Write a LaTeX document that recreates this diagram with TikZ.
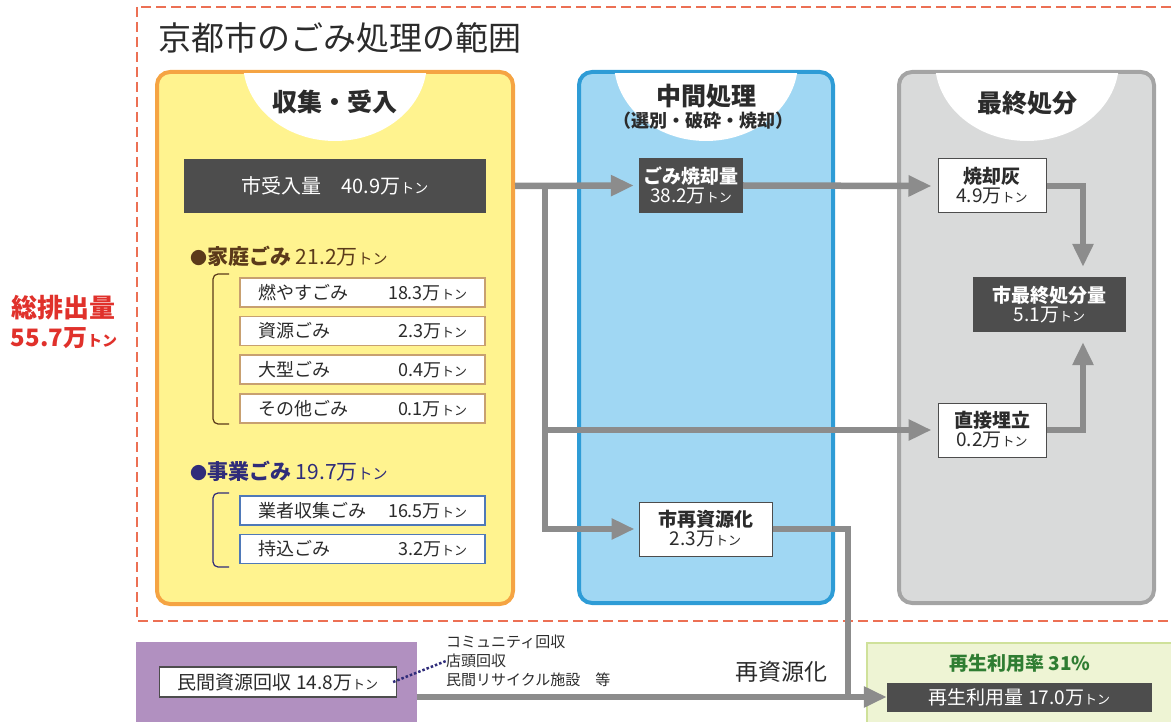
\documentclass[tikz,border=0pt]{standalone}
\usepackage{fontspec}
\setmainfont{Noto Sans CJK JP}
\usepackage{tikz}
\usetikzlibrary{arrows.meta, positioning}
\definecolor{ink}{RGB}{43,43,43}
\definecolor{dashred}{RGB}{236,112,84}
\definecolor{totalred}{RGB}{224,49,43}
\definecolor{yellowfill}{RGB}{255,243,143}
\definecolor{yellowline}{RGB}{245,164,67}
\definecolor{bluefill}{RGB}{160,215,243}
\definecolor{blueline}{RGB}{46,156,214}
\definecolor{grayfill}{RGB}{217,218,218}
\definecolor{grayline}{RGB}{164,164,164}
\definecolor{boxgray}{RGB}{77,77,77}
\definecolor{flowgray}{RGB}{140,140,140}
\definecolor{kateibrown}{RGB}{91,58,26}
\definecolor{tanline}{RGB}{200,160,112}
\definecolor{jigyonavy}{RGB}{47,44,122}
\definecolor{navyline}{RGB}{79,121,184}
\definecolor{purplefill}{RGB}{177,144,192}
\definecolor{greenfill}{RGB}{238,244,212}
\definecolor{greenline}{RGB}{207,225,154}
\definecolor{greentext}{RGB}{47,125,50}
\newcommand\fsz[1]{\fontsize{#1}{#1}\selectfont}
\newcommand\tn[1]{{\fontsize{#1}{#1}\selectfont トン}}

\begin{document}
\begin{tikzpicture}[x=1pt, y=-1pt,
    every node/.style={inner sep=0, text=ink},
    panel/.style={rounded corners=13, line width=4},
    darkbox/.style={fill=boxgray, text=white, align=center, font=\fsz{19}},
    whitebox/.style={fill=white, draw=boxgray, line width=1, align=center, font=\fsz{19}},
    subbox/.style={fill=white, draw=tanline, line width=1.3, minimum width=245, minimum height=29, text width=209, align=left, font=\fsz{18}},
    flow/.style={draw=flowgray, line width=6.5, -{Triangle[length=23pt, width=20pt]}},
    flowline/.style={draw=flowgray, line width=6.5}]
    \useasboundingbox (0,0) rectangle (1171,722);

    % outer frame and title
    \draw[dashred, line width=2, dash pattern=on 10pt off 5pt] (137,7) rectangle (1195,621);
    \node[anchor=west, font=\fsz{33}] (title) at (158,38) {京都市のごみ処理の範囲};
    \node[text=totalred, font=\bfseries\fsz{26}] (sohai) at (64,308) {総排出量};
    \node[text=totalred, font=\bfseries\fsz{24}] (sohaival) at (64,338) {55.7万\tn{15}};

    % three panels
    \node[panel, draw=yellowline, fill=yellowfill, minimum width=356, minimum height=532] (yellow) at (335,338) {};
    \node[panel, draw=blueline, fill=bluefill, minimum width=254, minimum height=531] (blue) at (706,337.5) {};
    \node[panel, draw=grayline, fill=grayfill, minimum width=255, minimum height=531] (gray) at (1026.5,337.5) {};
    \begin{scope}
        \clip (0,74) rectangle (1171,722);
        \fill[white] (335,62) ellipse [x radius=92, y radius=79];
        \fill[white] (706,62) ellipse [x radius=92, y radius=79];
        \fill[white] (1027,62) ellipse [x radius=92, y radius=79];
    \end{scope}
    \node[font=\bfseries\fsz{25}] (collect) at (335,102) {収集・受入};
    \node[font=\bfseries\fsz{25}] (middle) at (706,96) {中間処理};
    \node[font=\bfseries\fsz{18}] (middlesub) at (703,121) {（選別・破砕・焼却）};
    \node[font=\bfseries\fsz{25}] (final) at (1027,103) {最終処分};

    % collection side
    \node[darkbox, minimum width=302, minimum height=54, font=\fsz{20}] (in409) at (335,186) {市受入量\quad 40.9万\tn{14}};
    \node[anchor=west, text=kateibrown, font=\fsz{21}] (katei) at (190,256) {{\fsz{17}●}\textbf{家庭ごみ} 21.2万\tn{15}};
    \draw[kateibrown, line width=1.2, rounded corners=5] (229,274) -- (213,274) -- (213,424) -- (229,424);
    \node[subbox] (moyasu) at (362.5,292.5) {燃やすごみ\hfill 18.3万\tn{13}};
    \node[subbox] (shigen) at (362.5,331) {資源ごみ\hfill 2.3万\tn{13}};
    \node[subbox] (oogata) at (362.5,369.5) {大型ごみ\hfill 0.4万\tn{13}};
    \node[subbox] (sonota) at (362.5,408.5) {その他ごみ\hfill 0.1万\tn{13}};
    \node[anchor=west, text=jigyonavy, font=\fsz{21}] (jigyo) at (190,471) {{\fsz{17}●}\textbf{事業ごみ} 19.7万\tn{15}};
    \draw[jigyonavy, line width=1.2, rounded corners=5] (229,493) -- (213,493) -- (213,567) -- (229,567);
    \node[subbox, draw=navyline] (gyosha) at (362.5,510.5) {業者収集ごみ\hfill 16.5万\tn{13}};
    \node[subbox, draw=navyline] (mochikomi) at (362.5,549) {持込ごみ\hfill 3.2万\tn{13}};

    % treatment and disposal boxes
    \node[darkbox, minimum width=104, minimum height=55] (shoukyaku) at (691,185.5) {\textbf{ごみ焼却量}\\38.2万\tn{13}};
    \node[whitebox, minimum width=133, minimum height=54] (saishigen) at (705.5,529) {\textbf{市再資源化}\\2.3万\tn{13}};
    \node[whitebox, minimum width=108, minimum height=54] (haibox) at (992,186) {\textbf{焼却灰}\\4.9万\tn{13}};
    \node[darkbox, minimum width=153, minimum height=55] (saishu) at (1049.5,304.5) {\textbf{市最終処分量}\\5.1万\tn{13}};
    \node[whitebox, minimum width=108, minimum height=54] (chokusetsu) at (992,430) {\textbf{直接埋立}\\0.2万\tn{13}};

    % bottom row
    \node[fill=purplefill, minimum width=281, minimum height=80] (minkanbg) at (276,682) {};
    \node[fill=white, draw=boxgray, line width=1.2, minimum width=237, minimum height=30, font=\fsz{19}] (minkan) at (278,682) {民間資源回収 14.8万\tn{13}};
    \node[anchor=west, align=left, font=\fsz{15}] (notes) at (446,661) {コミュニティ回収\\[4pt]店頭回収\\[4pt]民間リサイクル施設　等};
    \node[font=\fsz{23}] (reuse) at (781,672) {再資源化};
    \node[fill=greenfill, draw=greenline, line width=2, minimum width=330, minimum height=90] (greenbg) at (1032,688) {};
    \node[text=greentext, font=\bfseries\fsz{19}] (rate) at (1020,663) {再生利用率 31\%};
    \node[darkbox, minimum width=265, minimum height=29] (riyou) at (1019.5,697) {再生利用量 17.0万\tn{13}};

    % connectors
    \coordinate (start) at (515,186);
    \coordinate (split) at (545,186);
    \coordinate (merge) at (848,697);
    \draw[flow, shorten >=5] (start) -- (shoukyaku.west);
    \draw[flow, shorten >=4] (split) |- (saishigen.west);
    \draw[flow, shorten >=6] (split |- chokusetsu.west) -- (chokusetsu.west);
    \draw[flow, shorten >=6] (shoukyaku.east) -- (haibox.west);
    \draw[flow, shorten >=10] (haibox.east) -| ([xshift=33.5]saishu.north);
    \draw[flow, shorten >=10] (chokusetsu.east) -| ([xshift=33.5]saishu.south);
    \draw[flowline] (saishigen.east) -| (merge);
    \draw[flow] (minkanbg.east |- merge) -- (riyou.west);
    \draw[jigyonavy, line width=2.5, dotted] ([xshift=-4]minkan.east) -- (notes.west);
\end{tikzpicture}
\end{document}
